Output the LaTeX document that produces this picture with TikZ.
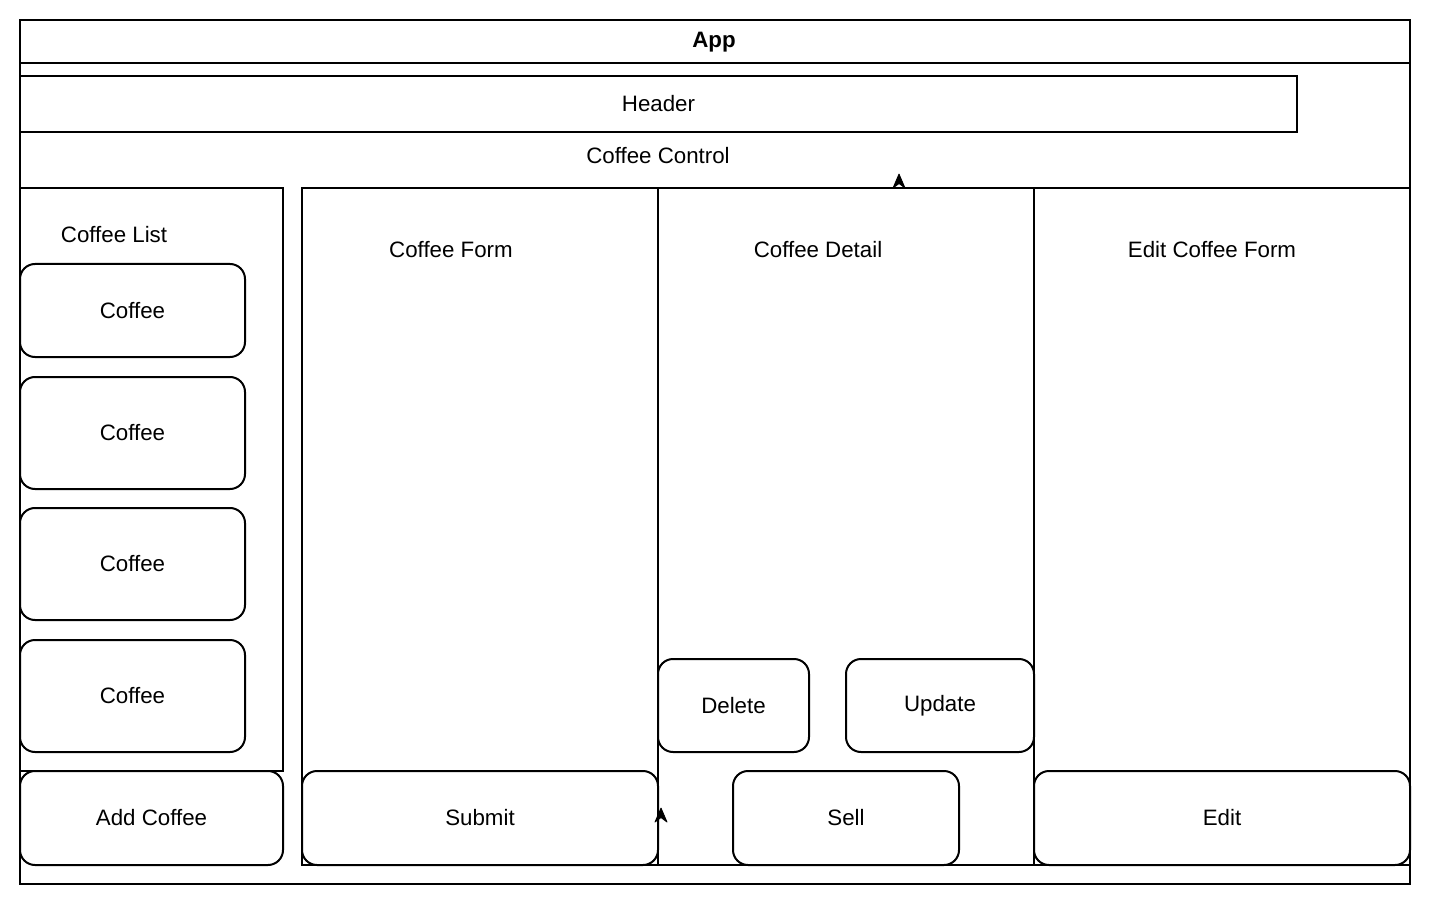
\documentclass[tikz,border=0pt]{standalone}
\usepackage{fontspec}
\setmainfont{Liberation Sans}
\begin{document}
\begin{tikzpicture}[x=1pt,y=-1pt,
  every node/.style={font=\fontsize{22.3}{26}\selectfont, inner sep=0pt, outer sep=0pt},
  frame/.style={draw, line width=2pt, rectangle},
  btn/.style={draw, line width=2pt, rectangle, rounded corners=15pt, fill=white},
  tiphead/.style={fill=black, draw=black, line width=0.8pt, line join=round}]
\useasboundingbox (0,0) rectangle (1430,904);
% App
\node[frame, minimum width=1390pt, minimum height=864pt] (app) at (715,452) {};
\node[font=\fontsize{22.3}{26}\selectfont\bfseries] (apptitle) at (714,42) {App};
\draw[line width=2pt] (app.west |- 0,63) -- (app.east |- 0,63);
% Header
\node[frame, minimum width=1277pt, minimum height=56pt] (header) at (658.5,104) {Header};
\node (control) at (658,156) {Coffee Control};
% Containers
\node[frame, minimum width=263pt, minimum height=583pt] (list) at (151.5,479.5) {};
\node (listtitle) at (114,235) {Coffee List};
\node[frame, minimum width=356pt, minimum height=677pt] (form) at (480,526.5) {};
\node (formtitle) at (451,250) {Coffee Form};
\node[frame, minimum width=376pt, minimum height=677pt] (detail) at (846,526.5) {};
\node (detailtitle) at (818,250) {Coffee Detail};
\node[frame, minimum width=376pt, minimum height=677pt] (edit) at (1222,526.5) {};
\node (edittitle) at (1212,250) {Edit Coffee Form};
% Coffee items
\node[btn, minimum width=225pt, minimum height=93pt] (c1) at (132.5,310.5) {Coffee};
\node[btn, minimum width=225pt, minimum height=112pt] (c2) at (132.5,433) {Coffee};
\node[btn, minimum width=225pt, minimum height=112pt] (c3) at (132.5,564) {Coffee};
\node[btn, minimum width=225pt, minimum height=112pt] (c4) at (132.5,696) {Coffee};
% Buttons
\node[btn, minimum width=263pt, minimum height=94pt] (add) at (151.5,818) {Add Coffee};
\node[btn, minimum width=356pt, minimum height=94pt] (submit) at (480,818) {Submit};
\node[btn, minimum width=151pt, minimum height=93pt] (delete) at (733.5,705.5) {Delete};
\node[btn, minimum width=188pt, minimum height=93pt] (update) at (940,705.5) {Update};
\node[btn, minimum width=226pt, minimum height=94pt] (sell) at (846,818) {Sell};
\node[btn, minimum width=376pt, minimum height=94pt] (editbtn) at (1222,818) {Edit};
% Arrow tips (stray arrowheads)
\coordinate (a1e) at (899,174);
\draw[tiphead] (a1e) -- ++(6,14) -- ++(-6,-4.5) -- ++(-6,4.5) -- cycle;
\coordinate (a2e) at (661,808);
\draw[tiphead] (a2e) -- ++(6,14) -- ++(-6,-4.5) -- ++(-6,4.5) -- cycle;
\end{tikzpicture}
\end{document}
